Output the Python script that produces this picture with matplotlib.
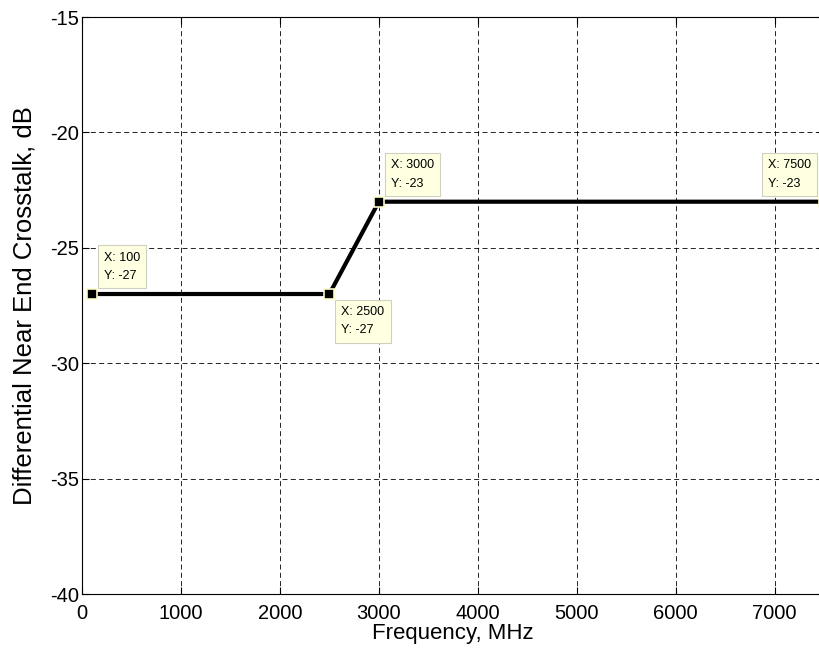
import matplotlib.pyplot as plt

freq = [100, 2500, 3000, 7500]
next_db = [-27, -27, -23, -23]
# where each data tip sits relative to its point
tip_side = ['ur', 'lr', 'ur', 'ul']

plt.rcParams['font.family'] = ['Liberation Sans', 'DejaVu Sans']
plt.rcParams['axes.unicode_minus'] = False

fig = plt.figure(figsize=(8.2, 6.49), dpi=100)
ax = fig.add_axes([0.1, 0.0847, 0.905, 0.889])

ax.plot(freq, next_db, color='black', linewidth=3, solid_capstyle='butt', zorder=3)
ax.plot(freq, next_db, linestyle='none', marker='s', markersize=6.5,
        markerfacecolor='black', markeredgecolor='#fdfcc8', markeredgewidth=1.2,
        zorder=4, clip_on=False)

for x, y, side in zip(freq, next_db, tip_side):
    dx = 12 if side[1] == 'r' else -13
    dy = 12 if side[0] == 'u' else -12
    ax.annotate('X: %d\nY: %d' % (x, y), xy=(x, y), xytext=(dx, dy),
                textcoords='offset pixels', fontsize=9, linespacing=1.7,
                ha='left' if dx > 0 else 'right', multialignment='left',
                va='bottom' if dy > 0 else 'top',
                bbox=dict(boxstyle='square,pad=0.5', facecolor='#ffffe1',
                          edgecolor='#d0d0c0', linewidth=0.8),
                zorder=5, annotation_clip=False)

ax.set_xlim(0, 7500)
ax.set_ylim(-40, -15)
ax.set_xticks(range(0, 7001, 1000))
ax.set_yticks(range(-40, -14, 5))
ax.grid(True, color='black', linestyle=(0, (6, 4)), linewidth=0.6)
ax.tick_params(direction='in', top=True, right=True, labelsize=14.5, length=5)
ax.tick_params(axis='x', pad=7)
ax.tick_params(axis='y', pad=2)
ax.spines['right'].set_visible(False)
for s in ax.spines.values():
    s.set_linewidth(0.8)

ax.set_xlabel('Frequency, MHz', fontsize=16, labelpad=0)
ax.set_ylabel('Differential Near End Crosstalk, dB', fontsize=18.5, labelpad=10)

fig.savefig('out.png', dpi=100)
